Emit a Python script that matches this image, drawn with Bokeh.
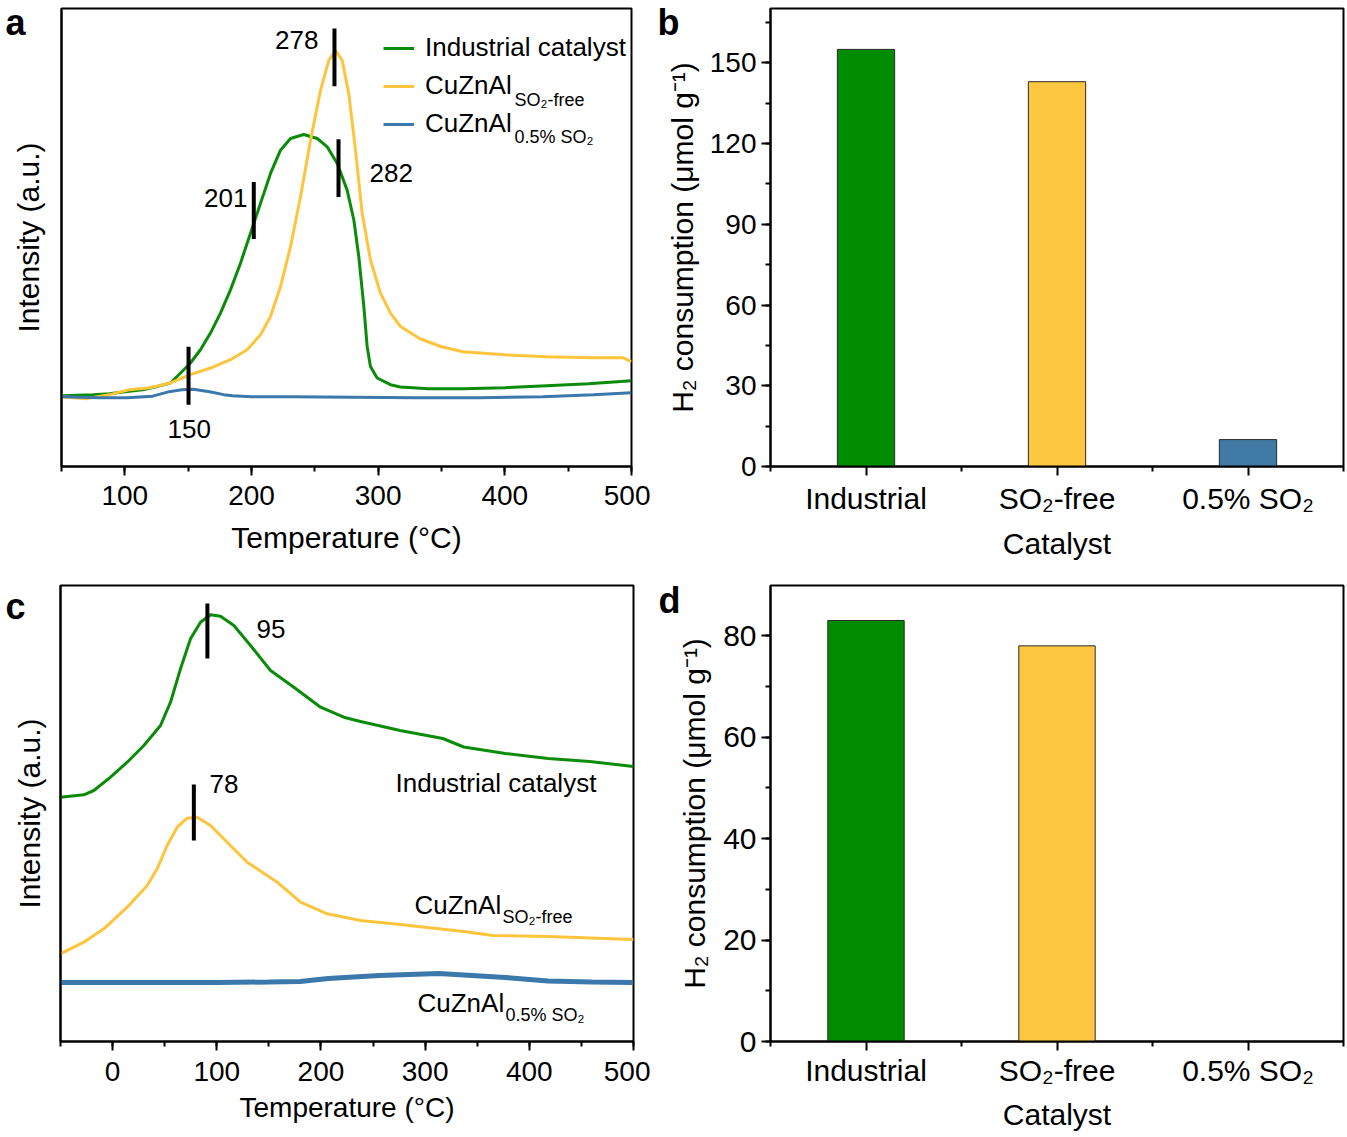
from bokeh.plotting import figure
from bokeh.layouts import column, row
from bokeh.models import (Range1d, SingleIntervalTicker, FixedTicker, Label,
                          Legend, LegendItem, LinearAxis)
from bokeh.core.properties import value
from bokeh.embed import file_html
from bokeh.resources import INLINE

FONT = "Liberation Sans"
GREEN = "#0a8c0a"
YELLOW = "#fec43c"
BLUE = "#3b78ab"
BAR_GREEN = "#008c00"
BAR_YELLOW = "#fdc840"
BAR_BLUE = "#3f7ba4"

# ---------------- panel a : H2-TPR curves ----------------
a_green_T = [50, 75, 88, 100, 114, 125, 136, 144, 151.8, 159.7, 167.6, 175.5, 183.4,
             191.3, 199.2, 207.1, 215, 222.9, 230.8, 241.3, 251.9, 259.8, 267.7,
             275.5, 280.8, 284.7, 288.7, 291.3, 293.9, 299.2, 309.7, 317.6, 340,
             367, 400, 433, 466, 500]
a_green_I = [71, 72, 73, 75, 77, 80, 83.7, 93.7, 103.7, 117, 133.7, 153.7, 177,
             203.7, 233.7, 263.7, 293.7, 317, 328.7, 332.7, 328.7, 320.3, 303.7,
             277, 247, 210.3, 160.3, 120.3, 100.3, 88.7, 82, 79.7, 78,
             78, 79, 81, 83, 86]
a_yellow_T = [50, 69, 88, 104, 120, 136, 151.8, 167.6, 183.4, 196.6, 207.1, 215,
              222.9, 230.8, 238.7, 246.6, 254.5, 261, 266.3, 271.6, 276.8, 282.1,
              287.4, 293.9, 301.8, 309.7, 317.6, 333, 350, 367, 400, 433, 470,
              493, 500]
a_yellow_I = [70, 68, 72, 77, 79, 83.7, 92, 98.7, 107, 117, 132, 150.3,
              180.3, 220.3, 270.3, 327, 377, 407, 417, 407, 373.7, 317,
              253.7, 207, 173.7, 153.7, 140.3, 128, 120, 115, 112, 110, 109,
              109, 105]
a_blue_T = [50, 80, 102, 122, 135, 145, 154, 167, 178, 185, 200, 232, 280, 330, 380,
            430, 470, 500]
a_blue_I = [70, 69, 69, 70.5, 75, 77, 77.5, 75, 72, 71, 70, 70, 69.5, 69, 69,
            70, 72, 74]
a_peak_T = [150.3, 201.8, 265.5, 268.7]
a_peak_lo = [62, 228, 381, 270]
a_peak_hi = [120, 285, 439, 328]
a_peak_labels = ["150", "201", "278", "282"]

# ---------------- panel c : curves ----------------
c_green_T = [-50, -27.6, -18, -2, 14, 30, 46, 55.6, 65.2, 74.8, 84.4, 94, 103.6,
             116.4, 132.4, 151.6, 174, 199.6, 221.9, 238, 276, 317, 337, 377, 418,
             458, 500]
c_green_I = [244.3, 246.7, 251, 264.3, 279.3, 296, 316, 339.3, 372.7, 402.7, 419.3,
             426.7, 425.3, 416, 396, 371, 354.3, 334.3, 324.3, 320, 311, 303, 294.5,
             288, 283, 280, 275]
c_yellow_T = [-50, -27.6, -8.4, 14, 33.2, 42.8, 52.4, 62, 71.6, 81.2, 94, 110, 129.2,
              158, 180.4, 206, 238, 276, 337, 365, 418, 500]
c_yellow_I = [87.7, 99.3, 112.7, 134.3, 156, 172.7, 196, 214.3, 223.3, 224.3, 216,
              199.3, 179.3, 159.3, 139.3, 127.7, 121, 117, 110, 106, 105, 102]
c_blue_T = [-50, 0, 50, 100, 150, 180, 207, 256, 313, 377, 418, 460, 500]
c_blue_I = [59, 59, 59, 59, 59.5, 60, 63, 66, 68, 64, 60.5, 59.5, 59]
c_peak_T = [91, 78]
c_peak_lo = [383, 201]
c_peak_hi = [438, 257]
c_peak_labels = ["95", "78"]

# ---------------- bars ----------------
categories = ["Industrial", "SO\u2082-free", "0.5% SO\u2082"]
cat_pos = [1, 2, 3]
bar_colors = [BAR_GREEN, BAR_YELLOW, BAR_BLUE]
b_values = [155, 143, 10]
d_values = [83, 78, 0]

# ---------------- layout helpers (page pixel -> data) ----------------
def fx(frame, rng, px):
    return rng[0] + (px - frame[0]) * (rng[1] - rng[0]) / (frame[1] - frame[0])

def fy(frame, rng, py):
    return rng[0] + (frame[1] - py) * (rng[1] - rng[0]) / (frame[1] - frame[0])

A_FX, A_FY, A_XR, A_YR = (61, 631), (8, 467), (50, 500), (0, 459)
B_FX, B_FY, B_XR, B_YR = (770, 1343), (8, 468), (0.5, 3.5), (0, 170.2)
C_FX, C_FY, C_XR, C_YR = (60, 633), (585, 1041), (-50, 500), (0, 456)
D_FX, D_FY, D_XR, D_YR = (770, 1343), (583, 1041), (0.5, 3.5), (0, 89.9)


def add_label(p, FX, FY, XR, YR, px, py, text, size, align="left"):
    p.add_layout(Label(x=fx(FX, XR, px), y=fy(FY, YR, py), text=text,
                       text_font=FONT, text_font_size=size, text_align=align,
                       text_baseline="middle", text_color="black"))


def panel_letter(p, text, ypos, standoff):
    # an extra, line-less left axis whose single tick label is the panel letter
    ax = LinearAxis(ticker=FixedTicker(ticks=[ypos], minor_ticks=[]),
                    major_label_overrides={ypos: text},
                    axis_line_color=None, major_tick_line_color=None,
                    minor_tick_line_color=None, major_tick_out=0, major_tick_in=0,
                    minor_tick_out=0, minor_tick_in=0, major_label_standoff=standoff,
                    major_label_text_font=FONT, major_label_text_font_style="bold",
                    major_label_text_font_size="36px", major_label_text_color="black")
    p.add_layout(ax, "left")


def style(p):
    p.outline_line_color = "black"
    p.outline_line_width = 2
    p.xgrid.visible = False
    p.ygrid.visible = False
    p.background_fill_color = "white"
    p.border_fill_color = "white"
    for ax in (p.xaxis[0], p.yaxis[0]):
        ax.axis_line_width = 2
        ax.major_tick_line_width = 2
        ax.minor_tick_line_width = 2
        ax.major_tick_out = 9
        ax.major_tick_in = 0
        ax.minor_tick_out = 5
        ax.minor_tick_in = 0
        ax.major_label_text_font = FONT
        ax.axis_label_text_font = FONT
        ax.axis_label_text_font_style = "normal"
        ax.axis_label_text_font_size = "30px"
        ax.axis_label_text_color = "black"
        ax.major_label_text_color = "black"


def make_fig(width, height, XR, YR, borders):
    p = figure(width=width, height=height, x_range=Range1d(*XR), y_range=Range1d(*YR),
               output_backend="svg", toolbar_location=None,
               min_border_left=borders[0], min_border_right=borders[1],
               min_border_top=borders[2], min_border_bottom=borders[3])
    style(p)
    return p


def curve_fig(width, height, XR, YR, borders):
    p = make_fig(width, height, XR, YR, borders)
    p.xaxis.ticker = SingleIntervalTicker(interval=100, num_minor_ticks=2)
    p.xaxis.major_label_text_font_size = "28px"
    p.xaxis.axis_label = "Temperature (\u00b0C)"
    p.yaxis.ticker = FixedTicker(ticks=[], minor_ticks=[])
    p.yaxis.axis_label = "Intensity (a.u.)"
    return p


def bar_fig(width, height, XR, YR, borders, values, bw, interval, tick_size):
    p = make_fig(width, height, XR, YR, borders)
    p.vbar(x=cat_pos, top=values, width=bw, fill_color=bar_colors,
           line_color="#2a2a2a", line_width=1)
    p.xaxis.ticker = FixedTicker(ticks=cat_pos, minor_ticks=[0.5, 1.5, 2.5, 3.5])
    p.xaxis.major_label_overrides = {k: v for k, v in zip(cat_pos, categories)}
    p.xaxis.major_label_text_font_size = "30px"
    p.xaxis.axis_label = "Catalyst"
    p.yaxis.ticker = SingleIntervalTicker(interval=interval, num_minor_ticks=2)
    p.yaxis.major_label_text_font_size = tick_size
    p.yaxis.major_label_standoff = 5
    p.yaxis.axis_label = "H\u2082 consumption (\u03bcmol g\u207b\u00b9)"
    return p


# ---------------- panel a ----------------
pa = curve_fig(650, 562, A_XR, A_YR, (61, 19, 8, 95))
pa.yaxis.axis_label_standoff = 17
pa.xaxis.major_label_standoff = 10
pa.xaxis.axis_label_standoff = 13
rg = pa.line(a_green_T, a_green_I, line_color=GREEN, line_width=3)
ry = pa.line(a_yellow_T, a_yellow_I, line_color=YELLOW, line_width=3)
rb = pa.line(a_blue_T, a_blue_I, line_color=BLUE, line_width=3)
pa.segment(x0=a_peak_T, y0=a_peak_lo, x1=a_peak_T, y1=a_peak_hi,
           line_color="black", line_width=4)
legend = Legend(items=[LegendItem(label=value("Industrial catalyst"), renderers=[rg]),
                       LegendItem(label=value("CuZnAl"), renderers=[ry]),
                       LegendItem(label=value("CuZnAl"), renderers=[rb])],
                location=(322, 327), label_text_font=FONT, label_text_font_size="26px",
                label_text_color="black",
                glyph_width=31, glyph_height=20, label_standoff=11, spacing=7,
                padding=0, margin=0, border_line_color=None,
                background_fill_alpha=0, label_height=20)
pa.add_layout(legend)
add_label(pa, A_FX, A_FY, A_XR, A_YR, 514, 100, "SO\u2082-free", "18px")
add_label(pa, A_FX, A_FY, A_XR, A_YR, 514, 137, "0.5% SO\u2082", "18px")
a_ann_pos = [(167, 429, "left"), (247, 198, "right"), (318, 40, "right"), (369, 173, "left")]
for (px, py, al), t in zip(a_ann_pos, a_peak_labels):
    add_label(pa, A_FX, A_FY, A_XR, A_YR, px, py, t, "26px", align=al)
panel_letter(pa, "a", 445, -17)

# ---------------- panel b ----------------
pb = bar_fig(695, 562, B_XR, B_YR, (120, 2, 8, 94), b_values, 0.3, 30, "28px")
pb.xaxis.major_label_standoff = 6
pb.xaxis.axis_label_standoff = 9
pb.yaxis.axis_label_standoff = 8
panel_letter(pb, "b", 166, -17)

# ---------------- panel c ----------------
pc = curve_fig(650, 573, C_XR, C_YR, (60, 17, 23, 94))
pc.yaxis.axis_label_standoff = 15
pc.xaxis.major_label_standoff = 11
pc.xaxis.axis_label_standoff = 8
pc.xaxis.axis_label_text_font_size = "28px"
pc.line(c_green_T, c_green_I, line_color=GREEN, line_width=3)
pc.line(c_yellow_T, c_yellow_I, line_color=YELLOW, line_width=3)
pc.line(c_blue_T, c_blue_I, line_color=BLUE, line_width=5)
pc.segment(x0=c_peak_T, y0=c_peak_lo, x1=c_peak_T, y1=c_peak_hi,
           line_color="black", line_width=4)
c_ann_pos = [(256, 628), (209, 783)]
for (px, py), t in zip(c_ann_pos, c_peak_labels):
    add_label(pc, C_FX, C_FY, C_XR, C_YR, px, py, t, "26px")
add_label(pc, C_FX, C_FY, C_XR, C_YR, 395, 782, "Industrial catalyst", "26px")
add_label(pc, C_FX, C_FY, C_XR, C_YR, 414, 904, "CuZnAl", "26px")
add_label(pc, C_FX, C_FY, C_XR, C_YR, 502, 916, "SO\u2082-free", "18px")
add_label(pc, C_FX, C_FY, C_XR, C_YR, 417, 1002, "CuZnAl", "26px")
add_label(pc, C_FX, C_FY, C_XR, C_YR, 505, 1014, "0.5% SO\u2082", "18px")
panel_letter(pc, "c", 435, -16)

# ---------------- panel d ----------------
pd_ = bar_fig(695, 573, D_XR, D_YR, (120, 2, 21, 94), d_values, 0.4, 20, "30px")
pd_.xaxis.major_label_standoff = 3
pd_.xaxis.axis_label_standoff = 8
pd_.yaxis.axis_label_standoff = 9
panel_letter(pd_, "d", 87, -5)

layout = column(row(pa, pb), row(pc, pd_))
open("out.html", "w").write(file_html(layout, INLINE))
